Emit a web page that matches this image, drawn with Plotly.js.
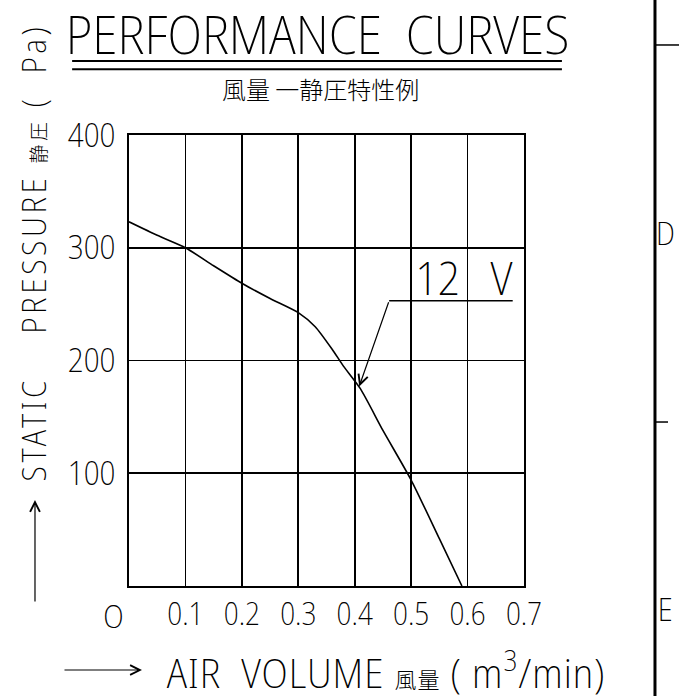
<!DOCTYPE html>
<html>
<head>
<meta charset="utf-8">
<script src="https://cdn.plot.ly/plotly-3.0.1.min.js"></script>
<style>
html,body{margin:0;padding:0;background:#fff;}
#chart{width:679px;height:696px;}
#chart text{font-stretch:82% !important;}
#chart g.annotation[data-index="0"] text{font-stretch:70% !important;}
#chart g.annotation[data-index="3"] text{letter-spacing:3.6px;}
#chart g.annotation[data-index="5"] text{letter-spacing:1px;}
</style>
</head>
<body>
<div id="chart"></div>
<script>
// Data
const airVolume = [0, 0.05, 0.1, 0.15, 0.2, 0.25, 0.3, 0.33, 0.36, 0.38, 0.41, 0.45, 0.5, 0.55, 0.59];
const staticPressure = [323, 311, 300, 284, 268.5, 255, 242.5, 230, 210, 195, 175, 138, 94, 42, 0];
const xTickVals = [0.1, 0.2, 0.3, 0.4, 0.5, 0.6, 0.7];
const xTickText = ['0.1', '0.2', '0.3', '0.4', '0.5', '0.6', '0.7'];
const yTickVals = [100, 200, 300, 400];
const yTickText = ['100', '200', '300', '400'];
const curveLabel = ['12', 'V'];

const CAD = '"Noto Sans Display", "Open Sans", sans-serif';
const CJK = '"Noto Sans CJK JP", "Noto Sans CJK SC", sans-serif';
const NB = '\u00A0';
function cad(size) { return {family: CAD, size: size, color: '#000', weight: 200}; }
function label(text, x, y, size, extra) {
  return Object.assign({text: text, xref: 'paper', yref: 'paper', x: x, y: y, xanchor: 'center', yanchor: 'middle',
    showarrow: false, font: cad(size)}, extra || {});
}
const cjkSpan = (t, s) => '<span style="font-family:\'Noto Sans CJK JP\';font-weight:300;font-size:' + s + 'px">' + t + '</span>';

const trace = {
  x: airVolume, y: staticPressure, type: 'scatter', mode: 'lines',
  line: {color: '#000', width: 1.6, shape: 'spline', smoothing: 0.6},
  hoverinfo: 'skip'
};

const layout = {
  width: 679, height: 696,
  margin: {l: 129, r: 155, t: 135, b: 110},
  paper_bgcolor: '#fff', plot_bgcolor: '#fff',
  showlegend: false,
  font: cad(20),
  xaxis: {
    range: [0, 0.7], tickvals: xTickVals, ticktext: xTickText,
    showgrid: true, gridcolor: '#000', gridwidth: 1.6,
    showline: true, mirror: true, linecolor: '#000', linewidth: 2,
    zeroline: false, ticks: '', ticklabelstandoff: 0,
    tickfont: cad(31)
  },
  yaxis: {
    range: [0, 400], tickvals: yTickVals, ticktext: yTickText,
    showgrid: true, gridcolor: '#000', gridwidth: 1.6,
    showline: true, mirror: true, linecolor: '#000', linewidth: 2,
    zeroline: false, ticks: '', ticklabelstandoff: 5,
    tickfont: cad(33)
  },
  shapes: [
    {type: 'line', xref: 'paper', yref: 'paper', x0: -0.144, x1: 1.096, y0: 1.164, y1: 1.164, line: {color: '#000', width: 2}},
    {type: 'line', xref: 'paper', yref: 'paper', x0: -0.144, x1: 1.096, y0: 1.146, y1: 1.146, line: {color: '#000', width: 2}},
    {type: 'line', xref: 'paper', yref: 'paper', x0: 1.3316, x1: 1.3316, y0: -0.26, y1: 1.31, line: {color: '#000', width: 3}},
    {type: 'line', xref: 'paper', yref: 'paper', x0: 1.3316, x1: 1.40, y0: 1.1996, y1: 1.1996, line: {color: '#000', width: 1.5}},
    {type: 'line', xref: 'paper', yref: 'paper', x0: 1.3316, x1: 1.3646, y0: 0.3636, y1: 0.3636, line: {color: '#000', width: 1.5}},
    {type: 'line', xref: 'x', yref: 'y', x0: 0.461, x1: 0.68, y0: 253, y1: 253, line: {color: '#000', width: 1.5}}
  ],
  annotations: [
    label('PERFORMANCE' + NB + NB + 'CURVES', 0.477, 1.226, 54),
    {text: '風量 一静圧特性例', xref: 'paper', yref: 'paper', x: 0.486, y: 1.104, xanchor: 'center', yanchor: 'middle',
     showarrow: false, font: {family: CJK, size: 24, color: '#000', weight: 300}},
    {text: 'O', xref: 'x', yref: 'y', x: 0, y: 0, xshift: -16, yshift: -29, xanchor: 'center', yanchor: 'middle',
     showarrow: false, font: cad(32)},
    label('STATIC' + NB + NB + NB + NB + 'PRESSURE' + NB + cjkSpan('静圧', 19) + NB + '(' + NB + NB + 'Pa)', -0.243, 0.738, 33, {textangle: -90}),
    {text: '', xref: 'paper', yref: 'paper', x: -0.238, y: 0.1907, ax: 0, ay: 103,
     showarrow: true, arrowhead: 5, arrowsize: 1.6, arrowwidth: 1.2, arrowcolor: '#000'},
    label('AIR' + NB + NB + 'VOLUME' + NB + cjkSpan('風量', 22) + NB + '(' + NB + 'm<sup>3</sup>/min)', 0.651, -0.186, 41),
    {text: '', xref: 'paper', yref: 'paper', x: 0.0329, y: -0.1863, ax: -79, ay: 0,
     showarrow: true, arrowhead: 5, arrowsize: 1.6, arrowwidth: 1.2, arrowcolor: '#000'},
    label('D', 1.358, 0.783, 32),
    label('E', 1.358, -0.05, 32),
    {text: curveLabel[0], xref: 'x', yref: 'y', x: 0.546, y: 274, xanchor: 'center', yanchor: 'middle',
     showarrow: false, font: cad(46)},
    {text: curveLabel[1], xref: 'x', yref: 'y', x: 0.661, y: 274, xanchor: 'center', yanchor: 'middle',
     showarrow: false, font: cad(46)},
    {text: '', xref: 'x', yref: 'y', x: 0.408, y: 177, axref: 'x', ayref: 'y', ax: 0.461, ay: 253,
     showarrow: true, arrowhead: 5, arrowsize: 1.6, arrowwidth: 1.2, arrowcolor: '#000'}
  ]
};

Plotly.newPlot('chart', [trace], layout, {staticPlot: true, displayModeBar: false});
</script>
</body>
</html>
